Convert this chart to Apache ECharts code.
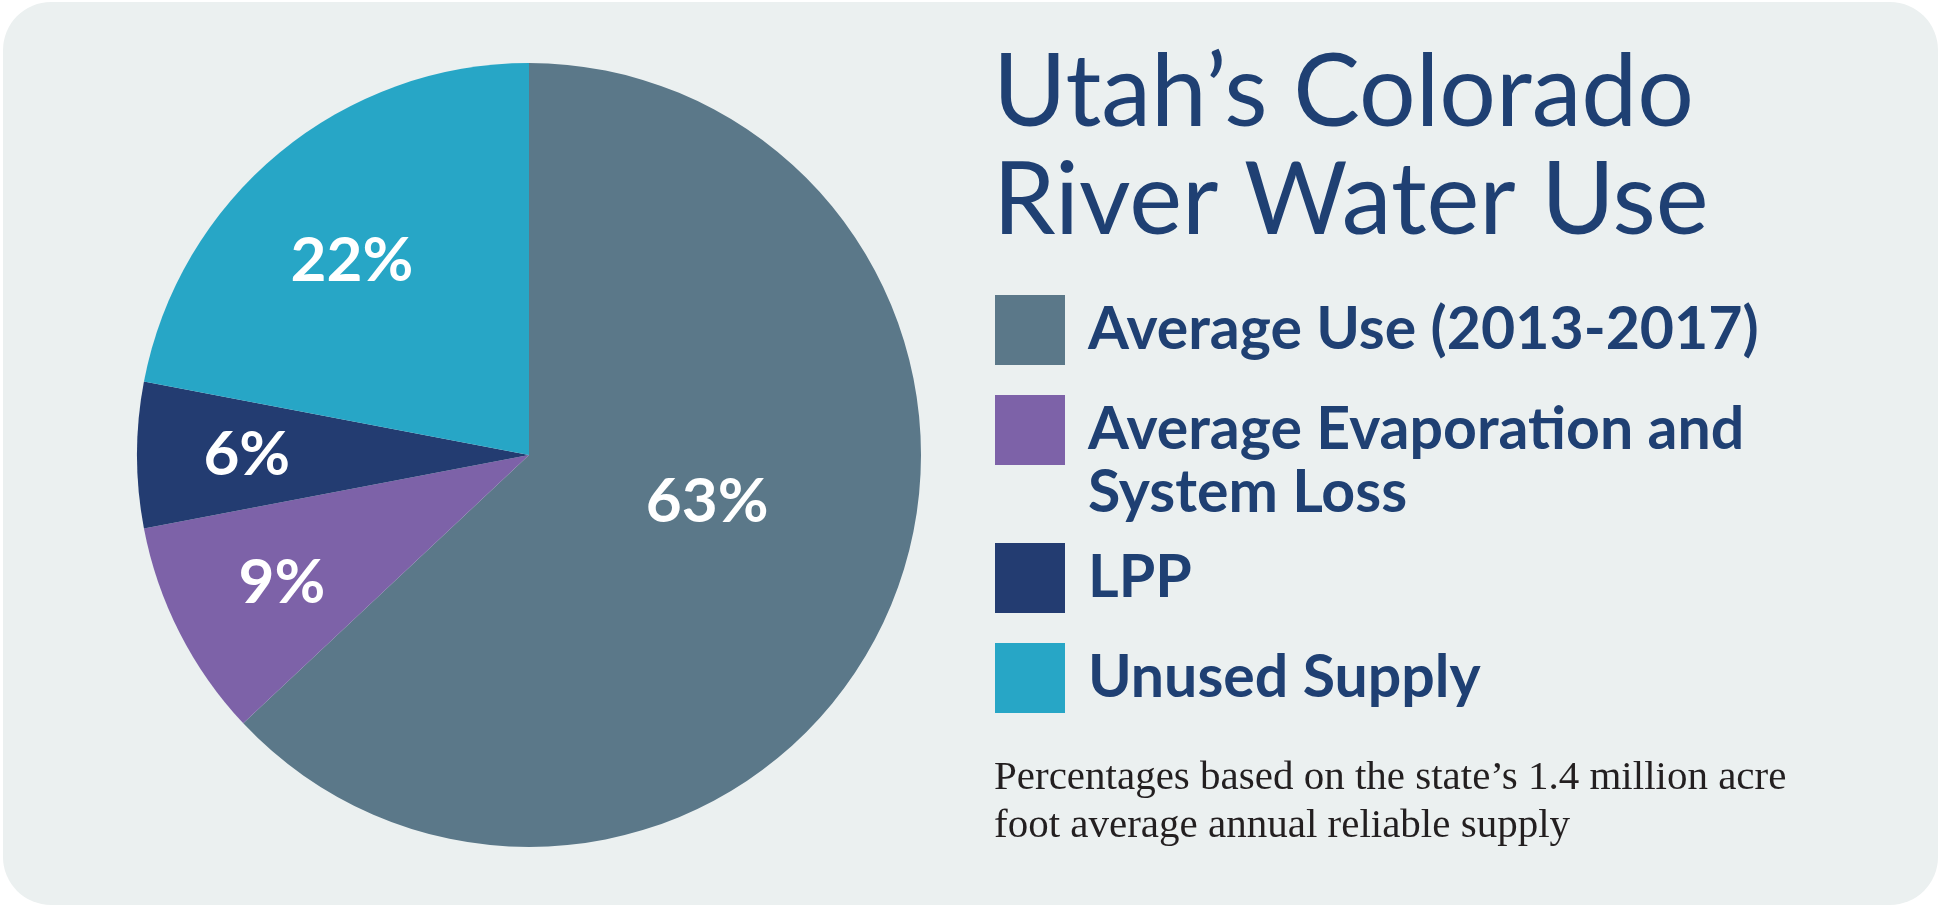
<!DOCTYPE html>
<html>
<head>
<meta charset="utf-8">
<title>Utah's Colorado River Water Use</title>
<script src="https://cdn.jsdelivr.net/npm/echarts@6/dist/echarts.min.js"></script>
<style>
  html, body { margin: 0; padding: 0; background: #ffffff; }
  #main { width: 1941px; height: 908px; }
</style>
</head>
<body>
<div id="main"></div>
<script>
// slices, clockwise from 12 o'clock
var names = ['Average Use (2013-2017)', 'Average Evaporation and System Loss', 'LPP', 'Unused Supply'];
var values = [63, 9, 6, 22];
var colors = ['#5b7889', '#7d62a8', '#233c71', '#27a6c6'];

// where each percentage sits inside its slice (share of radius, angle nudge in degrees)
var labelDist = [0.47, 0.71, 0.72, 0.67];
var labelTurn = [-8.7, -0.4, 0, -2.8];

var CX = 529, CY = 455, R = 392;
var ink = '#1f4073';

var total = values.reduce(function (a, b) { return a + b; }, 0);
var acc = 0;
var labelAt = values.map(function (v, i) {
    var mid = (acc + v / 2) / total * 2 * Math.PI + labelTurn[i] * Math.PI / 180;
    acc += v;
    return [CX + labelDist[i] * R * Math.sin(mid), CY - labelDist[i] * R * Math.cos(mid)];
});

var chart = echarts.init(document.getElementById('main'));

var legendText = {
    color: ink,
    fontFamily: 'Lato',
    fontWeight: 'bold',
    fontSize: 59,
    lineHeight: 63,
    padding: [0, 0, 0, 18]
};

function legendBox(items, top, gap, formatter) {
    return {
        data: items,
        orient: 'vertical',
        left: 995,
        top: top,
        padding: 0,
        itemGap: gap,
        itemWidth: 70,
        itemHeight: 70,
        icon: 'rect',
        selectedMode: false,
        textStyle: legendText,
        formatter: formatter
    };
}

var option = {
    animation: false,
    graphic: [{
        type: 'rect',
        z: -10,
        shape: { x: 3, y: 2, width: 1935, height: 903, r: 48 },
        style: { fill: '#ebf0f0' }
    }],
    title: [{
        text: 'Utah\u2019s Colorado\nRiver Water Use',
        left: 993,
        top: 40,
        padding: 0,
        textStyle: {
            color: ink,
            fontFamily: 'Lato',
            fontWeight: 'normal',
            fontSize: 100,
            lineHeight: 108
        }
    }, {
        text: 'Percentages based on the state\u2019s 1.4 million acre\nfoot average annual reliable supply',
        left: 994,
        top: 754,
        padding: 0,
        textStyle: {
            color: '#231f20',
            fontFamily: 'Liberation Serif',
            fontWeight: 'normal',
            fontSize: 41,
            lineHeight: 48
        }
    }],
    legend: [
        legendBox([names[0]], 295, 30),
        // blank first line keeps the first text line level with the swatch
        legendBox([names[1]], 335.5, 30, function () {
            return '\nAverage Evaporation and\nSystem Loss';
        }),
        legendBox([names[2], names[3]], 543, 30)
    ],
    series: [{
        type: 'pie',
        center: [CX, CY],
        radius: R,
        startAngle: 90,
        clockwise: true,
        silent: true,
        itemStyle: { borderWidth: 0 },
        label: {
            show: true,
            position: 'inside',
            formatter: '{c}%',
            color: '#ffffff',
            fontFamily: 'Lato',
            fontWeight: 'bold',
            fontSize: 62
        },
        labelLine: { show: false },
        labelLayout: function (params) {
            var p = labelAt[params.dataIndex];
            return { x: p[0], y: p[1], align: 'center', verticalAlign: 'middle' };
        },
        emphasis: { disabled: true },
        data: names.map(function (n, i) {
            return { name: n, value: values[i], itemStyle: { color: colors[i] } };
        })
    }]
};

chart.setOption(option);

window.onresize = chart.resize;
</script>
</body>
</html>
